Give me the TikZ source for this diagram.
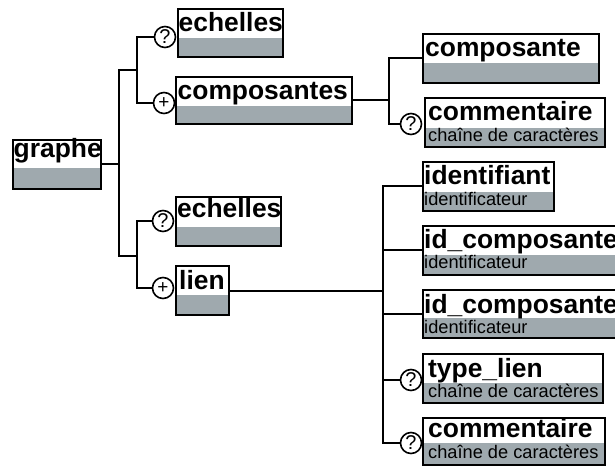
\documentclass[tikz,border=0pt]{standalone}
\usepackage{fontspec}
\setmainfont{Liberation Sans}
\definecolor{boxgrey}{RGB}{159,169,174}
\tikzset{
  conn/.style={line width=2bp, draw=black},
  elbox/.style={draw=black, line width=2bp, anchor=north west, inner sep=0pt, outer sep=0pt},
  bold/.style={font=\fontsize{26.5}{28}\selectfont\bfseries, inner sep=0pt, anchor=base west},
  sub/.style={font=\fontsize{18.3}{20}\selectfont, inner sep=0pt, anchor=base west},
  circ/.style={circle, draw=black, line width=1.6bp, fill=white, minimum size=21bp, inner sep=0pt, font=\fontsize{20}{20}\selectfont},
  pcirc/.style={circ, font=\fontsize{19}{19}\selectfont, text depth=-2bp},
}
\newcommand\elem[6]{%
  \fill[boxgrey] (#2,#3) rectangle (#4,#5);
  \fill[white] (#2,#3) rectangle (#4,#6);
  \node[elbox, minimum width={(#4-#2)*1bp}, minimum height={(#5-#3)*1bp}] (#1) at (#2,#3) {};
}
\begin{document}
\begin{tikzpicture}[x=1bp,y=-1bp]
\useasboundingbox (0,0) rectangle (615,466);
\clip (0,0) rectangle (615,466);
% boxes
\elem{graphe}{13}{140}{101}{189}{168}
\elem{ech1}{178}{9}{283}{57}{38}
\elem{comps}{176}{77}{352}{124}{106}
\elem{comp}{423}{34}{599}{83}{63}
\elem{comm1}{425}{98}{605}{147}{128}
\elem{ech2}{176}{197}{281}{246}{227}
\elem{lien}{176}{266}{229}{315}{295}
\elem{ident}{423}{162}{554}{211}{192}
\elem{idc1}{423}{226}{640}{275}{255}
\elem{idc2}{423}{290}{640}{338}{318}
\elem{tlien}{423}{354}{603}{403}{383}
\elem{comm2}{423}{418}{605}{465}{443}
% labels
\node[bold] (graphe-t) at (13.5,158) {graphe};
\node[bold] (ech1-t) at (178.5,32) {echelles};
\node[bold] (comps-t) at (177.5,100) {composantes};
\node[bold] (comp-t) at (425,57) {composante};
\node[bold] (comm1-t) at (428,121) {commentaire};
\node[sub] (comm1-s) at (428,142) {chaîne de caractères};
\node[bold] (ech2-t) at (177,218) {echelles};
\node[bold] (lien-t) at (179,290) {lien};
\node[bold] (ident-t) at (424,185) {identifiant};
\node[sub] (ident-s) at (424,206) {identificateur};
\node[bold] (idc1-t) at (424,249) {id\_composante};
\node[sub] (idc1-s) at (424,269) {identificateur};
\node[bold] (idc2-t) at (424,313) {id\_composante};
\node[sub] (idc2-s) at (424,333) {identificateur};
\node[bold] (tlien-t) at (428,377) {type\_lien};
\node[sub] (tlien-s) at (428,397) {chaîne de caractères};
\node[bold] (comm2-t) at (428,437) {commentaire};
\node[sub] (comm2-s) at (428,458) {chaîne de caractères};
% circles
\node[circ] (q1) at (165,37) {?};
\node[pcirc] (p1) at (164,103) {+};
\node[circ] (q2) at (411,124) {?};
\node[circ] (q3) at (163,221) {?};
\node[pcirc] (p2) at (163,288) {+};
\node[circ] (q4) at (411,380) {?};
\node[circ] (q5) at (411,443) {?};
% junctions
\coordinate (gj) at (119,165);
\coordinate (b1) at (137,70);
\coordinate (b2) at (137,256);
\coordinate (b3) at (389,98);
\coordinate (b4) at (383,287);
% connectors
\draw[conn] (graphe.east) -- (graphe.east -| gj);
\draw[conn] (b1) -| (gj) |- (b2);
\draw[conn] (q1.west) -| (b1) |- (p1.west);
\draw[conn] (q3.west) -| (b2) |- (p2.west);
\draw[conn] (comps.east) -- (comps.east -| b3);
\draw[conn] (comp.west) -| (b3) |- (q2.west);
\draw[conn] (lien.east) -- (lien.east -| b4);
\draw[conn] (ident.west) -| (b4) |- (q5.west);
\draw[conn] (idc1.west) -- (idc1.west -| b4);
\draw[conn] (idc2.west) -- (idc2.west -| b4);
\draw[conn] (q4.west) -- (q4.west -| b4);
\end{tikzpicture}
\end{document}
